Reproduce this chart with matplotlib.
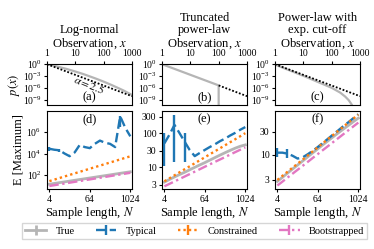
import numpy as np
import matplotlib
matplotlib.use("Agg")
import matplotlib.pyplot as plt
from matplotlib.ticker import NullLocator, FixedLocator, FixedFormatter

plt.rcParams['font.family'] = ['Liberation Serif', 'DejaVu Serif']
plt.rcParams['mathtext.fontset'] = 'stix'

# ---------------- data ----------------
# top row: densities p(x)
a_x = [1, 2, 5, 10, 20, 50, 100, 200, 500, 1000]
a_logp = [0, -0.47, -1.2, -1.83, -2.51, -3.53, -4.36, -5.27, -6.56, -7.7]
b_x = [1, 100, 100]
b_logp = [0, -5.3, -13]
c_x = [1, 10, 100, 200, 300, 400, 500, 600]
c_logp = [-0.1, -2.9, -5.9, -7.1, -8.1, -9.0, -10.0, -11.0]
ref_x = [1, 1000]
ref_logp = [0, -8.0]
b_ref_x = [100, 1000]
b_ref_logp = [-5.3, -8.0]

# bottom row: expected maximum vs sample length
N = [4, 5.66, 8, 11.3, 16, 22.6, 32, 45, 64, 90, 128, 181, 256, 362, 512, 724, 1024]

d_true = [14, 16.5, 19.5, 23, 27.2, 32.2, 38, 44.8, 53, 62.5, 74, 87, 103, 122, 144, 170, 200]
d_boot = [9.5, 11.3, 13.5, 16.1, 19.3, 23.0, 27.4, 32.7, 39, 46.5, 55.5, 66, 79, 94, 112, 134, 160]
d_cons = [27, 37.6, 52.5, 73, 102, 142, 198, 276, 385, 537, 748, 1043, 1454, 2027, 2826, 3940, 5500]
d_typ_log = [4.44, 4.35, 4.3, 4.0, 3.75, 4.1, 4.8, 4.6, 4.5, 4.9, 5.2, 5.0, 4.9, 4.6, 7.45, 6.4, 5.6]
d_typ_lo_log = [4.2, 4.35, 4.1, 4.0, 3.75, 4.1, 4.8, 4.6, 4.5, 4.9, 5.2, 5.0, 4.9, 4.6, 6.5, 6.4, 5.6]
d_typ_hi_log = [4.6, 4.35, 4.45, 4.0, 3.75, 4.1, 4.8, 4.6, 4.5, 4.9, 5.2, 5.0, 4.9, 4.6, 7.5, 6.4, 5.6]

e_true = [3.6, 4.3, 5.1, 6.0, 7.0, 8.3, 9.8, 11.5, 13.5, 16, 19, 22.5, 26.5, 31, 36, 41, 45]
e_boot = [2.7, 3.19, 3.76, 4.44, 5.24, 6.18, 7.3, 8.6, 10.2, 12.0, 14.2, 16.7, 19.7, 23.3, 27.5, 32.4, 38]
e_cons = [3.8, 4.65, 5.7, 7.0, 8.6, 10.5, 12.9, 15.8, 19.4, 23.8, 29.2, 35.8, 43.9, 53.8, 66, 81, 100]
e_typ = [50, 90, 175, 100, 56, 32, 21, 26, 32, 39, 47, 58, 69, 85, 102, 126, 151]
e_typ_lo = [11, 90, 14, 100, 14, 32, 21, 26, 32, 39, 47, 58, 69, 85, 102, 126, 151]
e_typ_hi = [100, 90, 340, 100, 100, 32, 21, 26, 32, 39, 47, 58, 69, 85, 102, 126, 151]

f_true = [2.8, 3.4, 4.15, 5.05, 6.1, 7.4, 9.0, 10.9, 13.2, 16.0, 19.3, 23.3, 28, 33.5, 40, 48, 57]
f_boot = [2.3, 2.77, 3.35, 4.04, 4.87, 5.87, 7.08, 8.54, 10.3, 12.4, 15.0, 18.1, 21.8, 26.3, 31.7, 38.2, 46]
f_cons = [3.0, 3.65, 4.43, 5.38, 6.5, 7.9, 9.6, 11.7, 14.2, 17.3, 21, 25.5, 31, 37.6, 45.7, 55.5, 67.5]
f_typ = [11, 11, 10.5, 9.5, 8.3, 8.8, 10.2, 12.0, 14.4, 17.5, 21.3, 26, 31.5, 38.5, 46.5, 56.5, 68.5]
f_typ_lo = [9, 11, 8.5, 9.5, 8.3, 8.8, 10.2, 12.0, 14.4, 17.5, 21.3, 26, 31.5, 38.5, 46.5, 56.5, 68.5]
f_typ_hi = [13.5, 11, 13, 9.5, 8.3, 8.8, 10.2, 12.0, 14.4, 17.5, 21.3, 26, 31.5, 38.5, 46.5, 56.5, 68.5]

titles = ['Log-normal', 'Truncated\npower-law', 'Power-law with\nexp. cut-off']
top_tags = ['(a)', '(b)', '(c)']
bot_tags = ['(d)', '(e)', '(f)']
series_labels = ['True', 'Typical', 'Constrained', 'Bootstrapped']

C_TRUE = '#b5b5b5'
C_TYP = '#1f77b4'
C_CONS = '#ff7f0e'
C_BOOT = '#e377c2'

# ---------------- figure ----------------
W, H = 374, 249
fig = plt.figure(figsize=(W / 100, H / 100), dpi=100)

lefts = [47, 162, 275]
aw = 85
top_ax = []
bot_ax = []
for l in lefts:
    top_ax.append(fig.add_axes([l / W, 1 - 105 / H, aw / W, 41 / H]))
    bot_ax.append(fig.add_axes([l / W, 1 - 189 / H, aw / W, 78 / H]))

TICK_FS = 7
LAB_FS = 9

# top row
tops = [(a_x, a_logp), (b_x, b_logp), (c_x, c_logp)]
refs = [(ref_x, ref_logp), (b_ref_x, b_ref_logp), (ref_x, ref_logp)]
for i, ax in enumerate(top_ax):
    x, lp = tops[i]
    ax.plot(x, 10.0 ** np.array(lp), color=C_TRUE, lw=1.6)
    rx, rlp = refs[i]
    ax.plot(rx, 10.0 ** np.array(rlp), color='black', lw=1.3, ls=(0, (1, 1)))
    ax.set_xscale('log')
    ax.set_yscale('log')
    ax.set_xlim(1, 1000)
    ax.set_ylim(10 ** -10.2, 10 ** 0.05)
    ax.xaxis.tick_top()
    ax.xaxis.set_label_position('top')
    ax.set_xticks([1, 10, 100, 1000])
    ax.set_xticklabels(['1', '10', '100', '1000'])
    ax.set_yticks([1e0, 1e-3, 1e-6, 1e-9])
    ax.xaxis.set_minor_locator(NullLocator())
    ax.yaxis.set_minor_locator(NullLocator())
    ax.tick_params(labelsize=TICK_FS, length=2.5, pad=1.5)
    ax.tick_params(axis='y', pad=1)
    ax.set_xlabel('Observation, $x$', fontsize=LAB_FS, labelpad=2)
    ax.set_title(titles[i], fontsize=LAB_FS, pad=2, linespacing=1.1)
    ax.text(0.5, 0.04, top_tags[i], transform=ax.transAxes, ha='center',
            va='bottom', fontsize=LAB_FS)
top_ax[0].set_ylabel('$p(x)$', fontsize=LAB_FS, labelpad=1)
top_ax[0].text(30, 10 ** -5.0, r'$\alpha = 2.5$', rotation=-22, fontsize=8,
               ha='center', va='center')

# bottom row
def err(vals, lo, hi):
    v = np.array(vals, float)
    return [v - np.array(lo, float), np.array(hi, float) - v]

d_typ = list(10.0 ** np.array(d_typ_log))
d_lo = list(10.0 ** np.array(d_typ_lo_log))
d_hi = list(10.0 ** np.array(d_typ_hi_log))

bottoms = [
    (d_true, d_typ, d_lo, d_hi, d_cons, d_boot),
    (e_true, e_typ, e_typ_lo, e_typ_hi, e_cons, e_boot),
    (f_true, f_typ, f_typ_lo, f_typ_hi, f_cons, f_boot),
]
ylims = [(5, 9e7), (2.25, 450), (1.95, 80)]
handles = None
for i, ax in enumerate(bot_ax):
    tr, ty, lo, hi, co, bo = bottoms[i]
    zero = [0] * len(N)
    h1 = ax.errorbar(N, tr, yerr=[zero, zero], color=C_TRUE, lw=2.0, ls='-', capsize=0)
    h2 = ax.errorbar(N, ty, yerr=err(ty, lo, hi), color=C_TYP, lw=1.7, ls=(0, (4, 1.8)),
                     elinewidth=1.7, capsize=0)
    h3 = ax.errorbar(N, co, yerr=[zero, zero], color=C_CONS, lw=1.7, ls=(0, (1, 1.3)), capsize=0)
    h4 = ax.errorbar(N, bo, yerr=[zero, zero], color=C_BOOT, lw=1.7, ls=(0, (4, 1.5, 1, 1.5)), capsize=0)
    if handles is None:
        handles = [h1, h2, h3, h4]
    ax.set_xscale('log', base=2)
    ax.set_yscale('log')
    ax.set_ylim(*ylims[i])
    ax.set_xlim(3.4, 1150)
    ax.xaxis.set_major_locator(FixedLocator([4, 64, 1024]))
    ax.xaxis.set_major_formatter(FixedFormatter(['4', '64', '1024']))
    ax.xaxis.set_minor_locator(NullLocator())
    ax.yaxis.set_minor_locator(NullLocator())
    ax.tick_params(labelsize=TICK_FS, length=2.5, pad=1.5)
    ax.set_xlabel('Sample length, $N$', fontsize=LAB_FS, labelpad=1)
    ax.text(0.5, 0.97, bot_tags[i], transform=ax.transAxes, ha='center',
            va='top', fontsize=LAB_FS)

bot_ax[0].set_yticks([1e2, 1e4, 1e6])
bot_ax[0].yaxis.set_minor_locator(NullLocator())
bot_ax[1].yaxis.set_major_locator(FixedLocator([3, 10, 30, 100, 300]))
bot_ax[1].yaxis.set_major_formatter(FixedFormatter(['3', '10', '30', '100', '300']))
bot_ax[2].yaxis.set_major_locator(FixedLocator([3, 10, 30]))
bot_ax[2].yaxis.set_major_formatter(FixedFormatter(['3', '10', '30']))
bot_ax[0].set_ylabel('E [Maximum]', fontsize=LAB_FS, labelpad=1)

leg = fig.legend(handles, series_labels, loc='lower center', bbox_to_anchor=(0.521, 0.02),
                 ncol=4, fontsize=7.5, frameon=True, fancybox=False, edgecolor='0.8',
                 handlelength=2.0, columnspacing=2.0, handletextpad=0.9,
                 borderpad=0.3)

fig.savefig('out.png', dpi=100)
